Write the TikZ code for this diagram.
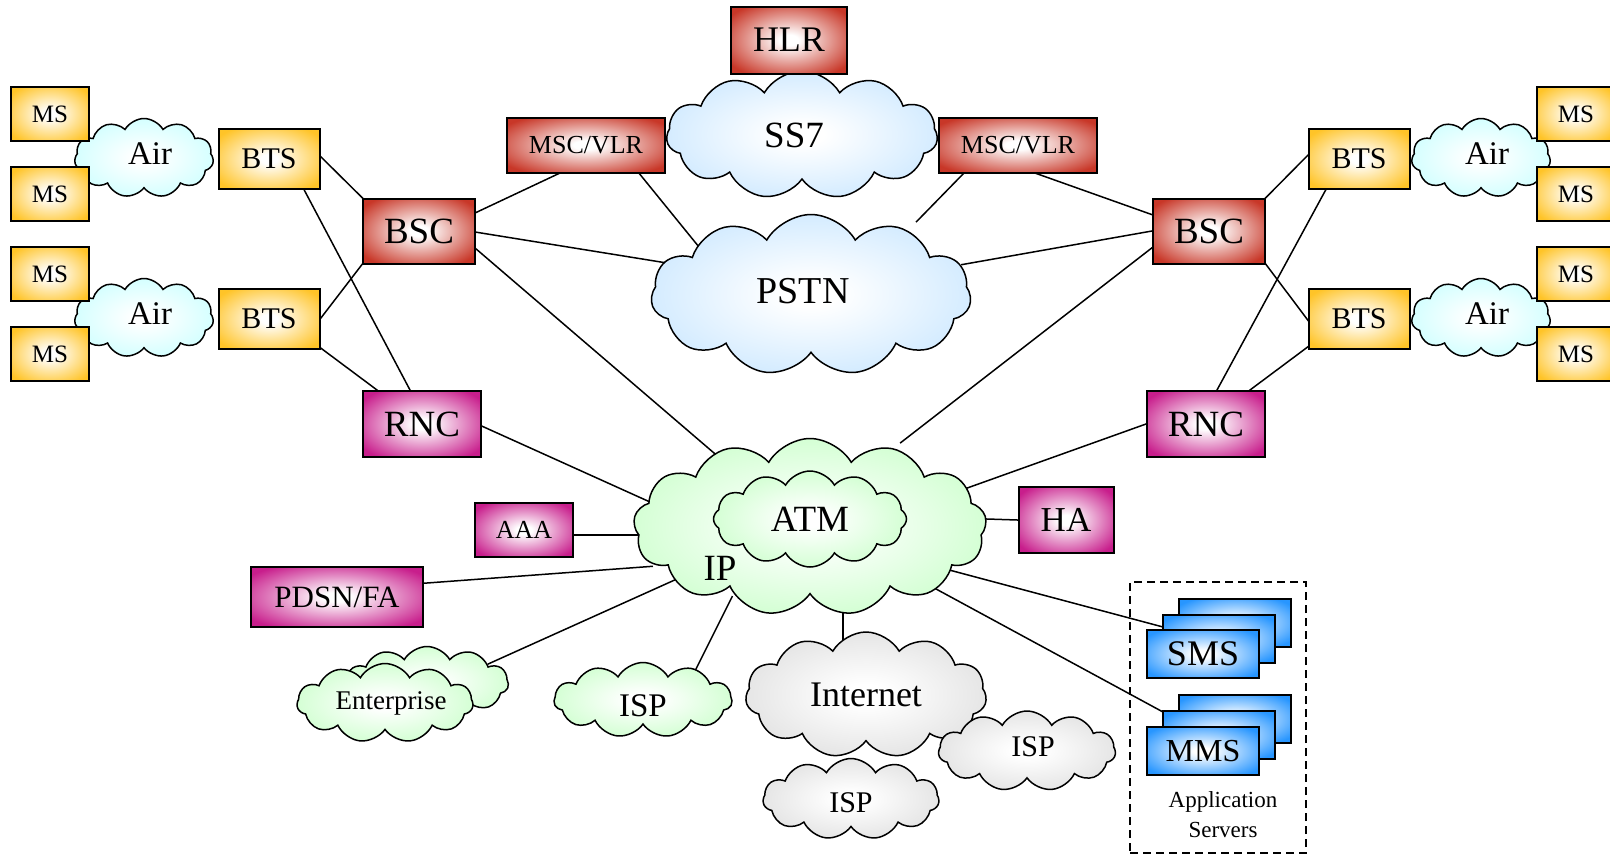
\documentclass[tikz,border=0pt]{standalone}
\usepackage{fontspec}
\setmainfont{Liberation Serif}
\usetikzlibrary{calc,shapes.symbols,backgrounds}

\definecolor{msyellow}{RGB}{255,196,40}
\definecolor{netred}{RGB}{200,55,40}
\definecolor{netmag}{RGB}{200,30,140}
\definecolor{appblue}{RGB}{40,150,255}
\definecolor{aircyan}{RGB}{200,255,255}
\definecolor{netsky}{RGB}{200,230,255}
\definecolor{netgreen}{RGB}{200,255,200}
\definecolor{netgrey}{RGB}{222,222,222}
\colorlet{glowcolor}{white}
\pgfdeclareradialshading[glowcolor]{boxglow}{\pgfpoint{0bp}{0bp}}{%
  color(0bp)=(white);color(4bp)=(white);color(31bp)=(glowcolor);color(50bp)=(glowcolor)}
\newcommand{\sizept}[1]{\fontsize{#1}{#1}\selectfont}

\begin{document}
\begin{tikzpicture}[x=1pt,y=-1pt,
  tint/.style={shade,shading=boxglow,/utils/exec={\colorlet{glowcolor}{#1}}},
  box/.style={draw,line width=2pt,inner sep=0pt},
  msbox/.style={box,tint=msyellow,minimum width=78pt,minimum height=54pt,font=\sizept{25}},
  btsbox/.style={box,tint=msyellow,minimum width=101pt,minimum height=60pt,font=\sizept{30}},
  bscbox/.style={box,tint=netred,minimum width=112pt,minimum height=65pt,font=\sizept{37}},
  mscbox/.style={box,tint=netred,minimum width=158pt,minimum height=55pt,font=\sizept{26}},
  magbox/.style={box,tint=netmag},
  rncbox/.style={magbox,minimum width=118pt,minimum height=66pt,font=\sizept{37}},
  appbox/.style={box,tint=appblue,minimum width=112pt,minimum height=48pt},
  netcloud/.style={cloud,cloud puffs=11,cloud puff arc=120,cloud ignores aspect,
    draw,line width=1.5pt,inner sep=0pt},
  aircloud/.style={netcloud,tint=aircyan,minimum width=139pt,minimum height=79pt,
    label={[font=\sizept{33},xshift=6pt,yshift=4pt]center:Air}},
  link/.style={line width=1.5pt,shorten <=-10pt,shorten >=-10pt}]
  \useasboundingbox (0,0) rectangle (1610,855);
  % 無線区間
  \node[aircloud] (air1) at (144,158) {};
  \node[aircloud] (air2) at (144,318) {};
  \node[aircloud] (air3) at (1481,158) {};
  \node[aircloud] (air4) at (1481,318) {};
  \node[msbox] (ms1) at (50,114) {MS};
  \node[msbox] (ms2) at (50,194) {MS};
  \node[msbox] (ms3) at (50,274) {MS};
  \node[msbox] (ms4) at (50,354) {MS};
  \node[msbox] (ms5) at (1576,114) {MS};
  \node[msbox] (ms6) at (1576,194) {MS};
  \node[msbox] (ms7) at (1576,274) {MS};
  \node[msbox] (ms8) at (1576,354) {MS};
  % 基地局
  \node[btsbox] (bts1) at (269,159) {BTS};
  \node[btsbox] (bts2) at (269,319) {BTS};
  \node[btsbox] (bts3) at (1359,159) {BTS};
  \node[btsbox] (bts4) at (1359,319) {BTS};
  \node[bscbox] (bsc1) at (419,231) {BSC};
  \node[bscbox] (bsc2) at (1209,231) {BSC};
  \node[rncbox] (rnc1) at (422,424) {RNC};
  \node[rncbox] (rnc2) at (1206,424) {RNC};
  % 回線交換網
  \node[netcloud,tint=netsky,minimum width=271pt,minimum height=128pt,
    label={[font=\sizept{37},xshift=-8pt]center:SS7}] (ss7) at (802,135) {};
  \node[bscbox,minimum width=116pt,minimum height=67pt,font=\sizept{36}] (hlr) at (789,40) {HLR};
  \node[mscbox] (msc1) at (586,145) {MSC/VLR};
  \node[mscbox] (msc2) at (1018,145) {MSC/VLR};
  \node[netcloud,tint=netsky,minimum width=320pt,minimum height=161pt,
    label={[font=\sizept{38},xshift=-8pt,yshift=4pt]center:PSTN}] (pstn) at (811,295) {};
  % パケット網
  \node[netcloud,tint=netgreen,cloud puffs=13,minimum width=353pt,minimum height=177pt] (ip) at (810,527) {};
  \node[netcloud,tint=netgreen,cloud puffs=12,minimum width=193pt,minimum height=96pt,
    label={[font=\sizept{37}]center:ATM}] (atm) at (810,519) {};
  \node[font=\sizept{37}] (iplbl) at (720,568) {IP};
  \node[magbox,minimum width=98pt,minimum height=54pt,font=\sizept{26}] (aaa) at (524,530) {AAA};
  \node[magbox,minimum width=172pt,minimum height=60pt,font=\sizept{31}] (pdsn) at (337,597) {PDSN/FA};
  \node[magbox,minimum width=95pt,minimum height=66pt,font=\sizept{35}] (ha) at (1066,520) {HA};
  % 外部網
  \node[netcloud,tint=netgreen,minimum width=163pt,minimum height=73pt] (ent2) at (427,683) {};
  \node[netcloud,tint=netgreen,minimum width=176pt,minimum height=79pt,
    label={[font=\sizept{27},xshift=6pt]center:Enterprise}] (ent1) at (385,703) {};
  \node[netcloud,tint=netgreen,minimum width=178pt,minimum height=75pt,
    label={[font=\sizept{33},yshift=-6pt]center:ISP}] (isp1) at (643,700) {};
  \node[netcloud,tint=netgrey,minimum width=241pt,minimum height=126pt,
    label={[font=\sizept{36}]center:Internet}] (inet) at (866,695) {};
  \node[netcloud,tint=netgrey,minimum width=177pt,minimum height=80pt,
    label={[font=\sizept{30},xshift=6pt,yshift=4pt]center:ISP}] (isp2) at (1027,751) {};
  \node[netcloud,tint=netgrey,minimum width=176pt,minimum height=81pt,
    label={[font=\sizept{30},yshift=-4pt]center:ISP}] (isp3) at (851,799) {};
  % アプリケーションサーバ
  \node[draw,line width=1.5pt,dash pattern=on 8pt off 5pt,minimum width=176pt,minimum height=271pt] (apps) at (1218,717.5) {};
  \node[appbox] (smsc) at (1235,623) {};
  \node[appbox] (smsb) at (1219,639) {};
  \node[appbox,font=\sizept{36}] (sms) at (1203,654) {SMS};
  \node[appbox] (mmsc) at (1235,719) {};
  \node[appbox] (mmsb) at (1219,735) {};
  \node[appbox,font=\sizept{32}] (mms) at (1203,751) {MMS};
  \node[font=\fontsize{23}{30}\selectfont,align=center] (appl) at (1223,815) {Application\\Servers};
  % 接続線
  \begin{pgfonlayer}{background}
    \draw[link] ($(bts1)+(45,-9)$) -- (bsc1.north west);
    \draw[link] ($(bts1)+(31,23)$) -- ($(rnc1.north)+(-12,0)$);
    \draw[link] ($(bts2)+(45,8)$) -- (bsc1.south west);
    \draw[link] ($(bts2)+(45,24)$) -- ($(rnc1.north)+(-45,0)$);
    \draw[link] ($(bsc1)+(56,-18)$) -- ($(msc1)+(-26,28)$);
    \draw[link] ($(bsc1)+(56,1)$) -- ($(pstn)+(-144,-32)$);
    \draw[link] ($(bsc1)+(56,17)$) -- ($(ip)+(-96,-74)$);
    \draw[link] ($(msc1)+(48,22)$) -- ($(pstn)+(-112,-48)$);
    \draw[link] ($(msc2)+(-54,28)$) -- ($(pstn)+(112,-80)$);
    \draw[link] ($(msc2)+(0,22)$) -- ($(bsc2)+(-56,-16)$);
    \draw[link] ($(pstn)+(160,-32)$) -- (bsc2.west);
    \draw[link] ($(ip)+(98,-90)$) -- ($(bsc2)+(-56,16)$);
    \draw[link] (bsc2.north east) -- ($(bts3)+(-46,-9)$);
    \draw[link] (bsc2.south east) -- ($(bts4)+(-46,8)$);
    \draw[link] ($(rnc2.north)+(11,0)$) -- ($(bts3)+(-29,23)$);
    \draw[link] ($(rnc2.north)+(44,0)$) -- ($(bts4)+(-46,24)$);
    \draw[link] ($(ip)+(160,-40)$) -- (rnc2.west);
    \draw[link] ($(rnc1)+(53,-1)$) -- ($(ip)+(-160,-25)$);
    \draw[link] ($(aaa)+(49,5)$) -- ($(ip)+(-175,8)$);
    \draw[link] ($(pdsn)+(90,-14)$) -- ($(ip)+(-167,40)$);
    \draw[link] ($(ent2)+(70,-23)$) -- ($(ip)+(-142,56)$);
    \draw[link] ($(isp1)+(56,-37)$) -- ($(ip)+(-82,78)$);
    \draw[link] ($(ip)+(33,83)$) -- ($(inet)+(-23,-62)$);
    \draw[link] ($(ip)+(128,40)$) -- ($(smsb)+(-56,-12)$);
    \draw[link] ($(ip)+(115,56)$) -- ($(mmsb)+(-56,-23)$);
    \draw[link] ($(ip)+(177,-8)$) -- (ha.west);
  \end{pgfonlayer}
\end{tikzpicture}
\end{document}
